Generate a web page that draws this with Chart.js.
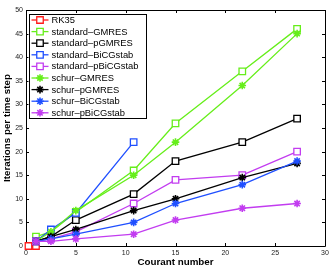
<!DOCTYPE html>
<html><head><meta charset="utf-8">
<script src="https://cdn.jsdelivr.net/npm/chart.js"></script>
<style>html,body{margin:0;padding:0;background:#fff}#wrap{width:332px;height:268px}</style>
</head><body><div id="wrap"><canvas id="c" width="332" height="268"></canvas></div>
<script>
const courant = [1, 2.5, 5, 10.8, 15, 21.7, 27.2];
const rkX = [0.25, 1];
const rk35 = [0, 0];
const stdGMRES = [2, 3, 7.2, 16, 26, 37, 46];
const stdPGMRES = [1, 2, 5.5, 11, 18, 22, 27];
const stdBiCGstab = [1, 3.5, 7, 22];
const stdPBiCGstab = [1, 1.5, 3, 9, 14, 15, 20];
const schurGMRES = [1, 3, 7.5, 15, 22, 34, 45];
const schurPGMRES = [1, 2, 3.5, 7.5, 10, 14.5, 17.5];
const schurBiCGstab = [1, 1.5, 2.5, 5, 9, 13, 18];
const schurPBiCGstab = [1, 1, 1.5, 2.5, 5.5, 8, 9];
const xTicks = [0, 5, 10, 15, 20, 25, 30];
const yTicks = [0, 5, 10, 15, 20, 25, 30, 35, 40, 45, 50];

const RED = '#ff1a1a', GREEN = '#66ee1a', BLACK = '#000000', BLUE = '#1f4fff', PURPLE = '#c23cf0';
const series = [
  {label: 'RK35', xs: rkX, ys: rk35, color: RED, mk: 'rect'},
  {label: 'standard–GMRES', xs: courant, ys: stdGMRES, color: GREEN, mk: 'rect'},
  {label: 'standard–pGMRES', xs: courant, ys: stdPGMRES, color: BLACK, mk: 'rect'},
  {label: 'standard–BiCGstab', xs: courant, ys: stdBiCGstab, color: BLUE, mk: 'rect'},
  {label: 'standard–pBiCGstab', xs: courant, ys: stdPBiCGstab, color: PURPLE, mk: 'rect'},
  {label: 'schur–GMRES', xs: courant, ys: schurGMRES, color: GREEN, mk: 'star'},
  {label: 'schur–pGMRES', xs: courant, ys: schurPGMRES, color: BLACK, mk: 'star'},
  {label: 'schur–BiCGstab', xs: courant, ys: schurBiCGstab, color: BLUE, mk: 'star'},
  {label: 'schur–pBiCGstab', xs: courant, ys: schurPBiCGstab, color: PURPLE, mk: 'star'}
];
const N = series.length;
const datasets = series.map((s, i) => ({
  label: s.label,
  data: s.ys.map((y, j) => ({x: s.xs[j], y: y})),
  borderColor: s.color,
  backgroundColor: s.mk === 'rect' ? '#ffffff' : s.color,
  pointBorderColor: s.color,
  pointBackgroundColor: s.mk === 'rect' ? '#ffffff' : s.color,
  pointStyle: s.mk,
  pointRadius: s.mk === 'rect' ? 4.6 : 3.8,
  pointBorderWidth: s.mk === 'rect' ? 1.3 : 1.6,
  borderWidth: 1.3,
  tension: 0,
  fill: false,
  clip: false,
  order: N - i
}));

const FONT = '"Liberation Sans", Arial, sans-serif';

const boxPlugin = {
  id: 'box',
  beforeDatasetsDraw(chart) {
    const ctx = chart.ctx, a = chart.chartArea;
    const xs = chart.scales.x, ys = chart.scales.y;
    ctx.save();
    ctx.strokeStyle = '#000';
    ctx.lineWidth = 1;
    ctx.beginPath();
    ctx.rect(Math.round(a.left) + 0.5, Math.round(a.top) + 0.5, Math.round(a.right - a.left), Math.round(a.bottom - a.top));
    ctx.stroke();
    const tl = 3;
    ctx.beginPath();
    xTicks.forEach(v => {
      const p = Math.round(xs.getPixelForValue(v)) + 0.5;
      ctx.moveTo(p, a.bottom); ctx.lineTo(p, a.bottom - tl);
      ctx.moveTo(p, a.top); ctx.lineTo(p, a.top + tl);
    });
    yTicks.forEach(v => {
      const p = Math.round(ys.getPixelForValue(v)) + 0.5;
      ctx.moveTo(a.left, p); ctx.lineTo(a.left + tl, p);
      ctx.moveTo(a.right, p); ctx.lineTo(a.right - tl, p);
    });
    ctx.stroke();
    ctx.restore();
  },
  afterDraw(chart) {
    const ctx = chart.ctx, a = chart.chartArea;
    const bx = a.left + 2.5, by = a.top + 3.5, bw = 117, bh = 104;
    ctx.save();
    ctx.fillStyle = '#fff';
    ctx.fillRect(bx, by, bw, bh);
    ctx.strokeStyle = '#000';
    ctx.lineWidth = 1;
    ctx.strokeRect(Math.round(bx) + 0.5, Math.round(by) + 0.5, bw, bh);
    ctx.font = '9.4px ' + FONT;
    ctx.textBaseline = 'middle';
    ctx.textAlign = 'left';
    const meta = chart.data.datasets;
    meta.forEach((d, i) => {
      const y = by + 6.5 + i * 11.6;
      const x0 = bx + 3, x1 = bx + 20, xm = (x0 + x1) / 2;
      ctx.strokeStyle = d.borderColor;
      ctx.lineWidth = 1.3;
      ctx.beginPath(); ctx.moveTo(x0, y); ctx.lineTo(x1, y); ctx.stroke();
      ctx.save();
      ctx.fillStyle = d.pointBackgroundColor;
      ctx.strokeStyle = d.pointBorderColor;
      ctx.lineWidth = d.pointBorderWidth;
      ctx.beginPath();
      Chart.helpers.drawPoint(ctx, {pointStyle: d.pointStyle, radius: d.pointRadius, rotation: 0, borderWidth: d.pointBorderWidth}, xm, y);
      ctx.restore();
      ctx.fillStyle = '#000';
      ctx.fillText(d.label, x1 + 3, y + 0.5);
    });
    ctx.restore();
  }
};

new Chart(document.getElementById('c'), {
  type: 'line',
  data: {datasets},
  options: {
    responsive: false,
    animation: false,
    devicePixelRatio: 1,
    layout: {padding: {top: 10, right: 7, left: 1, bottom: 0}},
    plugins: {legend: {display: false}, tooltip: {enabled: false}},
    scales: {
      x: {
        type: 'linear', min: 0, max: 30,
        afterBuildTicks(s) { s.ticks = xTicks.map(v => ({value: v})); },
        afterFit(s) { s.height = 22; },
        grid: {display: false, drawTicks: false},
        border: {display: false},
        ticks: {padding: 3, maxRotation: 0, color: '#222', font: {size: 7, family: FONT}},
        title: {display: true, text: 'Courant number', color: '#000', padding: {top: 0, bottom: 0}, font: {size: 9.8, weight: 'bold', family: FONT}}
      },
      y: {
        type: 'linear', min: 0, max: 50,
        afterBuildTicks(s) { s.ticks = yTicks.map(v => ({value: v})); },
        afterFit(s) { s.width = 25; },
        grid: {display: false, drawTicks: false},
        border: {display: false},
        ticks: {padding: 3, color: '#222', font: {size: 7, family: FONT}},
        title: {display: true, text: 'Iterations per time step', color: '#000', padding: {top: 0, bottom: 0}, font: {size: 9.8, weight: 'bold', family: FONT}}
      }
    }
  },
  plugins: [boxPlugin]
});
</script></body></html>
